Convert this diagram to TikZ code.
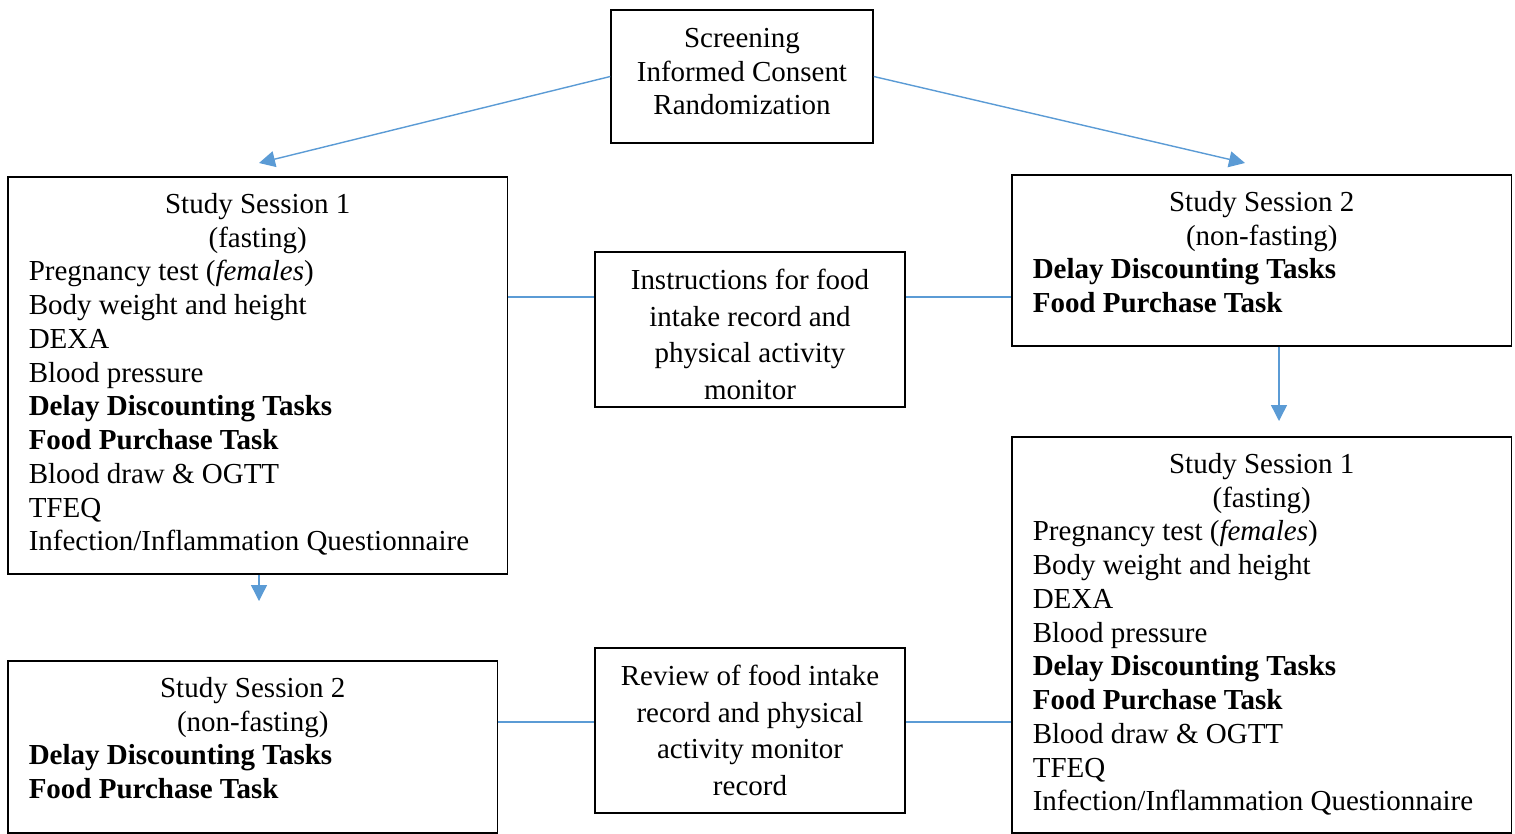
\documentclass[tikz,border=0pt]{standalone}
\usepackage{fontspec}
\setmainfont{Liberation Serif}
\usetikzlibrary{arrows.meta}
\definecolor{flowblue}{RGB}{91,155,213}

\begin{document}
\begin{tikzpicture}[x=0.02cm, y=-0.02cm,
	box/.style={draw, line width=0.9pt, align=center, font=\fontsize{16.5}{19.2}\selectfont},
	note/.style={box, minimum width=6.2cm, font=\fontsize{16.5}{20.8}\selectfont},
	session/.style={draw, line width=0.9pt, anchor=north west, inner xsep=0.42cm, inner ysep=0.33cm, font=\fontsize{16.5}{19.2}\selectfont},
	arrow/.style={flowblue, line width=0.8pt, -{Triangle[length=0.32cm, width=0.32cm]}},
	link/.style={flowblue, line width=0.8pt}]
			\useasboundingbox (0,0) rectangle (1515,833);
			% top box
			\node[box, minimum width=5.24cm, minimum height=2.66cm] (screen) at (742,76.5) {Screening\\Informed Consent\\Randomization\rule[-0.2cm]{0pt}{0pt}};
			% left column
			\node[session] (s1l) at (7,176) {\parbox[t][7.28cm][t]{9.16cm}{\centering Study Session 1\\(fasting)\par
				\raggedright Pregnancy test (\textit{females})\\Body weight and height\\DEXA\\Blood pressure\\
				\textbf{Delay Discounting Tasks}\\\textbf{Food Purchase Task}\\Blood draw \& OGTT\\TFEQ\\
				Infection/Inflammation Questionnaire}};
			\node[session] (s2l) at (7,660) {\parbox[t][2.78cm][t]{8.96cm}{\centering Study Session 2\\(non-fasting)\par
				\raggedright\textbf{Delay Discounting Tasks}\\\textbf{Food Purchase Task}}};
			% right column
			\node[session] (s2r) at (1011,174) {\parbox[t][2.76cm][t]{9.16cm}{\centering Study Session 2\\(non-fasting)\par
				\raggedright\textbf{Delay Discounting Tasks}\\\textbf{Food Purchase Task}}};
			\node[session] (s1r) at (1011,436) {\parbox[t][7.26cm][t]{9.16cm}{\centering Study Session 1\\(fasting)\par
				\raggedright Pregnancy test (\textit{females})\\Body weight and height\\DEXA\\Blood pressure\\
				\textbf{Delay Discounting Tasks}\\\textbf{Food Purchase Task}\\Blood draw \& OGTT\\TFEQ\\
				Infection/Inflammation Questionnaire}};
			% middle notes
			\node[note, minimum height=3.1cm] (instr) at (750,329.5) {\rule{0pt}{0.61cm}Instructions for food\\intake record and\\physical activity\\monitor};
			\node[note, minimum height=3.3cm] (review) at (750,730.5) {Review of food intake\\record and physical\\activity monitor\\record};
			% arrow ends
			\coordinate (s1l-in) at (259,163);
			\coordinate (s2r-in) at (1245,163);
			\coordinate (s2l-in) at (259,601);
			\coordinate (s1r-in) at (1279,421);
			\draw[arrow] (screen.west) -- (s1l-in);
			\draw[arrow] (screen.east) -- (s2r-in);
			\draw[arrow] (s1l.south -| s2l-in) -- (s2l-in);
			\draw[arrow] (s2r.south -| s1r-in) -- (s1r-in);
			% links to the notes
			\coordinate (instr-l) at ([yshift=0.65cm]instr.west);
			\coordinate (instr-r) at ([yshift=0.65cm]instr.east);
			\coordinate (review-l) at ([yshift=0.17cm]review.west);
			\coordinate (review-r) at ([yshift=0.17cm]review.east);
			\draw[link] (s1l.east |- instr-l) -- (instr-l);
			\draw[link] (instr-r) -- (instr-r -| s2r.west);
			\draw[link] (s2l.east |- review-l) -- (review-l);
			\draw[link] (review-r) -- (review-r -| s1r.west);
		\end{tikzpicture}
\end{document}
